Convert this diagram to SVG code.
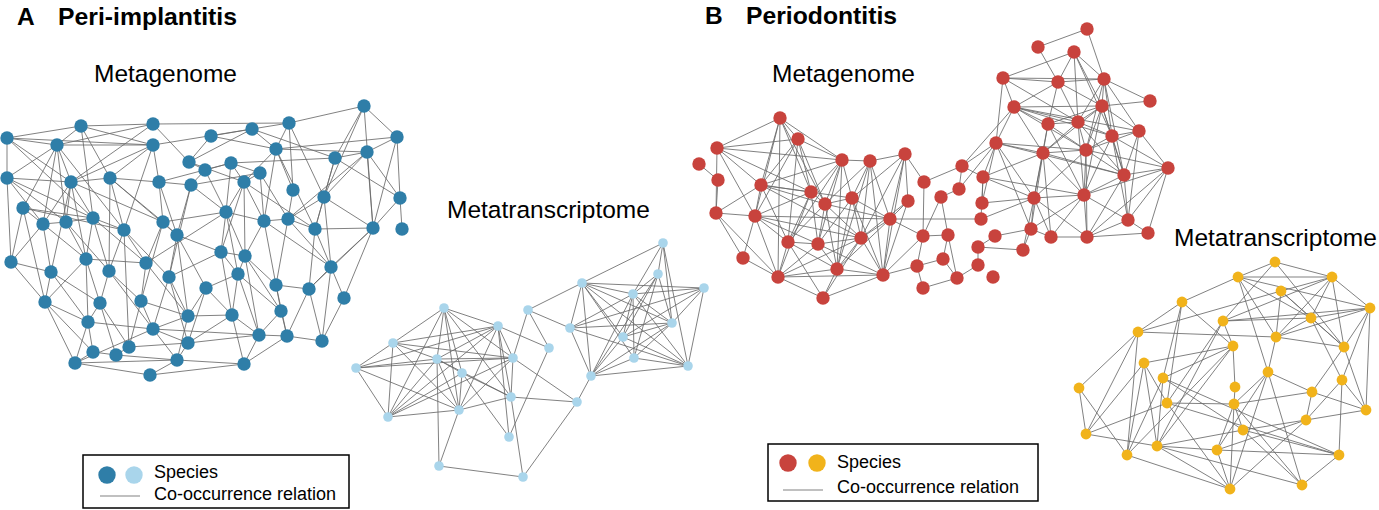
<svg xmlns="http://www.w3.org/2000/svg" width="1379" height="510" viewBox="0 0 1379 510">
<style>
.e{stroke:#6a6a6a;stroke-width:0.85;fill:none}
.db{fill:#2f7ea8}.lb{fill:#a9d5eb}.rd{fill:#c8433d}.yw{fill:#f1b31b}
.t{font-family:"Liberation Sans",Arial,sans-serif;fill:#000}
.h{font-size:24.5px;font-weight:bold}
.s{font-size:24.5px}
.lg{font-size:18px}
.box{fill:#fff;stroke:#000;stroke-width:1.5}
</style>
<rect width="1379" height="510" fill="#fff"/>
<g id="titles">
<text class="t h" x="17" y="25">A</text>
<text class="t h" x="58" y="25" textLength="179" lengthAdjust="spacingAndGlyphs">Peri-implantitis</text>
<text class="t s" x="94" y="82" textLength="143" lengthAdjust="spacingAndGlyphs">Metagenome</text>
<text class="t s" x="447" y="218">Metatranscriptome</text>
<text class="t h" x="705" y="24">B</text>
<text class="t h" x="746" y="24" textLength="151" lengthAdjust="spacingAndGlyphs">Periodontitis</text>
<text class="t s" x="772" y="82" textLength="143" lengthAdjust="spacingAndGlyphs">Metagenome</text>
<text class="t s" x="1174" y="246">Metatranscriptome</text>
</g>
<g id="connectors">
<path class="e" d="M7 138L81 126M7 138L57 145M7 138L7 178M7 138L71 182M7 138L93 218M7 138L153 145M81 126L153 124M81 126L57 145M81 126L153 145M81 126L110 178M81 126L93 218M153 124L289 123M153 124L57 145M153 124L189 162M153 124L71 182M57 145L153 145M57 145L7 178M57 145L71 182M57 145L23 208M57 145L43 224M57 145L66 222M57 145L124 230M153 145L71 182M153 145L110 178M153 145L124 230M153 145L159 182M189 162L211 136M189 162L205 170M189 162L252 129M189 162L244 182M211 136L252 129M211 136L276 149M205 170L191 185M205 170L231 163M205 170L226 212M7 178L71 182M7 178L11 262M7 178L43 224M7 178L93 218M7 178L66 222M71 182L110 178M71 182L43 224M71 182L66 222M71 182L93 218M71 182L51 272M71 182L86 259M71 182L163 222M110 178L159 182M110 178L124 230M110 178L109 271M110 178L163 222M110 178L177 235M159 182L163 222M159 182L177 235M159 182L191 185M159 182L231 163M191 185L177 235M191 185L169 277M191 185L260 173M191 185L226 212M23 208L43 224M23 208L93 218M23 208L124 230M23 208L45 302M23 208L11 262M43 224L11 262M43 224L51 272M43 224L66 222M43 224L86 259M66 222L93 218M66 222L86 259M66 222L109 271M93 218L124 230M93 218L109 271M93 218L146 263M93 218L86 259M124 230L146 263M124 230L169 277M124 230L129 347M124 230L109 271M163 222L177 235M163 222L146 263M163 222L141 301M163 222L226 212M177 235L169 277M177 235L206 288M177 235L188 316M177 235L221 252M11 262L51 272M11 262L45 302M51 272L45 302M51 272L88 322M51 272L100 303M86 259L100 303M86 259L88 322M86 259L146 263M86 259L45 302M109 271L141 301M109 271L100 303M109 271L153 329M146 263L141 301M146 263L188 316M146 263L226 212M169 277L188 316M169 277L153 329M169 277L188 343M169 277L221 252M206 288L188 316M206 288L188 343M206 288L238 274M206 288L232 315M45 302L88 322M45 302L93 352M45 302L75 363M100 303L116 355M100 303L129 347M100 303L88 322M141 301L153 329M141 301L129 347M141 301L188 316M188 316L177 360M188 316L232 315M188 316L153 329M88 322L93 352M88 322L75 363M88 322L153 329M153 329L188 343M153 329L75 363M153 329L177 360M153 329L259 335M93 352L116 355M93 352L75 363M116 355L129 347M116 355L177 360M129 347L188 343M188 343L177 360M188 343L232 315M188 343L259 335M75 363L150 375M75 363L177 360M177 360L150 375M177 360L244 364M150 375L244 364M252 129L289 123M252 129L276 149M252 129L335 158M252 129L153 145M289 123L364 106M289 123L293 190M289 123L324 197M289 123L276 149M364 106L397 137M364 106L335 158M364 106L324 197M364 106L373 228M397 137L367 152M397 137L400 198M397 137L373 228M397 137L276 149M231 163L260 173M231 163L244 182M231 163L226 212M231 163L335 158M276 149L367 152M276 149L244 182M276 149L264 221M276 149L315 229M276 149L293 190M335 158L367 152M335 158L324 197M335 158L400 198M335 158L315 229M367 152L324 197M367 152L400 198M367 152L373 228M367 152L288 219M260 173L244 182M260 173L264 221M260 173L288 219M244 182L226 212M244 182L264 221M244 182L221 252M244 182L245 256M244 182L315 229M293 190L288 219M324 197L315 229M324 197L373 228M324 197L331 267M324 197L288 219M400 198L373 228M400 198L402 229M226 212L221 252M226 212L245 256M226 212L238 274M226 212L264 221M264 221L288 219M264 221L245 256M264 221L331 267M264 221L276 285M288 219L315 229M288 219L331 267M288 219L276 285M315 229L331 267M315 229L309 289M315 229L373 228M373 228L331 267M373 228L344 298M373 228L309 289M221 252L245 256M221 252L238 274M221 252L232 315M245 256L238 274M245 256L276 285M245 256L281 311M245 256L259 335M331 267L309 289M331 267L322 341M331 267L344 298M238 274L232 315M238 274L281 311M238 274L259 335M276 285L281 311M276 285L287 336M276 285L309 289M309 289L287 336M309 289L322 341M344 298L322 341M232 315L259 335M232 315L244 364M281 311L259 335M281 311L287 336M259 335L287 336M259 335L244 364M287 336L322 341M287 336L244 364"/>
<path class="e" d="M444 308L393 343M444 308L498 326M444 308L437 359M444 308L462 373M444 308L513 358M444 308L388 417M444 308L459 410M444 308L511 397M498 326L393 343M498 326L356 368M498 326L388 417M498 326L437 359M498 326L459 410M498 326L513 358M498 326L511 397M498 326L549 348M498 326L509 437M393 343L356 368M393 343L388 417M393 343L437 359M393 343L513 358M393 343L459 410M356 368L388 417M356 368L437 359M356 368L513 358M356 368L459 410M388 417L437 359M388 417L462 373M388 417L513 358M388 417L459 410M437 359L513 358M437 359L459 410M437 359L439 466M437 359L462 373M437 359L511 397M462 373L511 397M462 373L459 410M462 373L509 437M459 410L513 358M459 410L439 466M459 410L511 397M513 358L511 397M513 358L577 402M513 358L528 310M511 397L577 402M511 397L523 477M509 437L549 348M439 466L523 477M523 477L577 402M528 310L582 283M528 310L570 328M528 310L549 348M577 402L591 376M582 283L663 243M582 283L704 288M582 283L672 323M582 283L688 366M582 283L623 337M582 283L634 358M582 283L633 294M582 283L570 328M582 283L591 376M663 243L633 294M663 243L672 323M663 243L688 366M663 243L658 274M658 274L633 294M658 274L623 337M658 274L634 358M658 274L591 376M658 274L672 323M633 294L704 288M633 294L672 323M633 294L623 337M633 294L634 358M633 294L688 366M633 294L591 376M633 294L570 328M704 288L570 328M704 288L688 366M704 288L623 337M704 288L672 323M570 328L672 323M570 328L688 366M570 328L591 376M672 323L623 337M672 323L634 358M672 323L591 376M623 337L688 366M623 337L591 376M634 358L688 366M634 358L591 376M688 366L591 376"/>
<path class="e" d="M780 118L717 148M780 118L798 139M780 118L842 160M780 118L761 185M780 118L755 216M780 118L778 277M780 118L825 204M780 118L811 192M798 139L717 148M798 139L842 160M798 139L761 185M798 139L811 192M798 139L755 216M798 139L788 242M798 139L825 204M717 148L842 160M717 148L761 185M717 148L811 192M717 148L716 213M717 148L755 216M699 164L718 180M718 180L716 213M842 160L870 161M842 160L761 185M842 160L811 192M842 160L825 204M842 160L852 198M842 160L788 242M842 160L818 244M842 160L837 269M870 161L905 154M870 161L852 198M870 161L825 204M870 161L861 238M870 161L883 275M870 161L837 269M870 161L890 219M905 154L890 219M905 154L924 182M905 154L861 238M905 154L883 275M905 154L852 198M905 154L908 201M761 185L811 192M761 185L825 204M761 185L716 213M761 185L755 216M761 185L788 242M761 185L852 198M761 185L861 238M811 192L825 204M811 192L755 216M811 192L788 242M811 192L818 244M811 192L778 277M825 204L852 198M825 204L818 244M825 204L788 242M825 204L861 238M825 204L837 269M825 204L890 219M852 198L890 219M852 198L861 238M852 198L818 244M852 198L883 275M852 198L837 269M908 201L890 219M908 201L861 238M908 201L883 275M924 182L962 166M924 182L923 236M962 166L959 189M962 166L983 177M962 166L996 143M941 197L923 236M941 197L948 235M959 189L941 197M983 177L982 203M983 177L981 219M716 213L755 216M716 213L743 258M716 213L778 277M755 216L788 242M755 216L818 244M755 216L778 277M755 216L861 238M755 216L890 219M755 216L743 258M890 219L861 238M890 219L883 275M890 219L923 236M890 219L981 219M890 219L837 269M788 242L818 244M788 242L778 277M788 242L823 298M788 242L837 269M818 244L861 238M818 244L837 269M818 244L778 277M818 244L883 275M861 238L883 275M861 238L837 269M861 238L778 277M861 238L823 298M923 236L948 235M923 236L917 266M923 236L883 275M948 235L943 259M948 235L957 278M978 247L978 265M978 247L995 236M743 258L778 277M778 277L837 269M778 277L823 298M778 277L883 275M837 269L823 298M837 269L883 275M883 275L823 298M883 275L917 266M917 266L943 259M917 266L923 288M943 259L957 278M978 265L957 278M923 288L957 278M1087 29L1038 47M1087 29L1104 79M1038 47L1058 82M1074 52L1003 78M1074 52L1104 79M1074 52L1102 106M1074 52L1078 122M1074 52L1112 136M1074 52L1058 82M1003 78L1058 82M1003 78L1104 79M1003 78L1014 107M1003 78L996 143M1003 78L1078 122M1058 82L1104 79M1058 82L1014 107M1058 82L1102 106M1058 82L1048 124M1058 82L1078 122M1104 79L1102 106M1104 79L1112 136M1104 79L1139 131M1104 79L1124 175M1104 79L1086 150M1104 79L1078 122M1104 79L1150 101M1150 101L1102 106M1014 107L1102 106M1014 107L1048 124M1014 107L1078 122M1014 107L996 143M1014 107L1043 153M1014 107L1112 136M1014 107L1139 131M1014 107L1086 150M1102 106L1048 124M1102 106L1078 122M1102 106L1112 136M1102 106L1139 131M1102 106L1043 153M1102 106L1086 150M1102 106L1124 175M1102 106L1084 195M1048 124L1078 122M1048 124L1043 153M1048 124L1086 150M1048 124L1034 198M1048 124L1084 195M1078 122L1112 136M1078 122L1043 153M1078 122L1086 150M1078 122L1124 175M1078 122L1084 195M1112 136L1139 131M1112 136L1086 150M1112 136L1124 175M1112 136L1168 168M1112 136L1084 195M1112 136L1128 220M1139 131L1168 168M1139 131L1124 175M1139 131L1086 150M1139 131L1128 220M996 143L1043 153M996 143L1086 150M996 143L1124 175M996 143L1034 198M996 143L1031 229M996 143L983 177M1043 153L1086 150M1043 153L1034 198M1043 153L1084 195M1043 153L1124 175M1043 153L1051 237M1043 153L1031 229M1086 150L1124 175M1086 150L1084 195M1086 150L1168 168M1086 150L1034 198M1086 150L1087 237M1168 168L1124 175M1168 168L1128 220M1168 168L1087 237M1168 168L1148 233M1168 168L1084 195M1124 175L1084 195M1124 175L1128 220M1124 175L1087 237M983 177L1034 198M983 177L1084 195M983 177L1043 153M1034 198L1084 195M1034 198L1031 229M1034 198L1051 237M1034 198L1087 237M1034 198L1023 250M1084 195L1128 220M1084 195L1087 237M1084 195L1051 237M1084 195L1031 229M1128 220L1087 237M1128 220L1148 233M1031 229L1051 237M1051 237L1087 237M1087 237L1148 233M995 236L1031 229M1023 250L1031 229M978 247L1023 250M982 203L1034 198M981 219L1034 198M982 203L996 143M959 189L996 143M962 166L1014 107"/>
<path class="e" d="M1275 262L1238 277M1275 262L1332 277M1275 262L1344 347M1275 262L1223 321M1238 277L1182 302M1238 277L1332 277M1238 277L1311 318M1238 277L1276 337M1238 277L1268 372M1238 277L1370 308M1332 277L1281 291M1332 277L1311 318M1332 277L1370 308M1332 277L1276 337M1332 277L1344 347M1332 277L1223 321M1281 291L1311 318M1281 291L1344 347M1281 291L1276 337M1281 291L1138 332M1370 308L1223 321M1370 308L1311 318M1370 308L1276 337M1370 308L1344 347M1370 308L1366 410M1370 308L1342 380M1182 302L1138 332M1182 302L1163 378M1182 302L1167 403M1182 302L1233 346M1138 332L1276 337M1138 332L1079 388M1138 332L1086 434M1138 332L1127 455M1223 321L1311 318M1223 321L1233 346M1223 321L1157 446M1223 321L1167 403M1311 318L1276 337M1311 318L1344 347M1311 318L1342 380M1276 337L1344 347M1276 337L1268 372M1233 346L1144 363M1233 346L1235 387M1233 346L1163 378M1233 346L1127 455M1233 346L1157 446M1344 347L1312 392M1344 347L1366 410M1144 363L1086 434M1144 363L1127 455M1144 363L1157 446M1144 363L1167 403M1163 378L1127 455M1163 378L1157 446M1163 378L1339 455M1163 378L1243 430M1268 372L1234 404M1268 372L1312 392M1268 372L1230 489M1268 372L1302 485M1268 372L1217 450M1342 380L1366 410M1342 380L1339 455M1342 380L1306 420M1079 388L1086 434M1079 388L1127 455M1235 387L1234 404M1312 392L1306 420M1312 392L1366 410M1312 392L1234 404M1167 403L1234 404M1167 403L1086 434M1167 403L1339 455M1167 403L1230 489M1234 404L1217 450M1234 404L1243 430M1234 404L1230 489M1234 404L1302 485M1366 410L1306 420M1306 420L1217 450M1306 420L1230 489M1306 420L1243 430M1243 430L1339 455M1243 430L1157 446M1243 430L1302 485M1086 434L1157 446M1157 446L1217 450M1157 446L1302 485M1157 446L1230 489M1127 455L1230 489M1217 450L1339 455M1217 450L1230 489M1339 455L1302 485"/>
</g>
<g id="peri-metagenome-nodes" class="db">
<g id="pm1"><circle cx="7" cy="138" r="6.7"/></g>
<g id="pm2"><circle cx="81" cy="126" r="6.7"/></g>
<g id="pm3"><circle cx="153" cy="124" r="6.7"/></g>
<g id="pm4"><circle cx="57" cy="145" r="6.7"/></g>
<g id="pm5"><circle cx="153" cy="145" r="6.7"/></g>
<g id="pm6"><circle cx="189" cy="162" r="6.7"/></g>
<g id="pm7"><circle cx="211" cy="136" r="6.7"/></g>
<g id="pm8"><circle cx="205" cy="170" r="6.7"/></g>
<g id="pm9"><circle cx="7" cy="178" r="6.7"/></g>
<g id="pm10"><circle cx="71" cy="182" r="6.7"/></g>
<g id="pm11"><circle cx="110" cy="178" r="6.7"/></g>
<g id="pm12"><circle cx="159" cy="182" r="6.7"/></g>
<g id="pm13"><circle cx="191" cy="185" r="6.7"/></g>
<g id="pm14"><circle cx="23" cy="208" r="6.7"/></g>
<g id="pm15"><circle cx="43" cy="224" r="6.7"/></g>
<g id="pm16"><circle cx="66" cy="222" r="6.7"/></g>
<g id="pm17"><circle cx="93" cy="218" r="6.7"/></g>
<g id="pm18"><circle cx="124" cy="230" r="6.7"/></g>
<g id="pm19"><circle cx="163" cy="222" r="6.7"/></g>
<g id="pm20"><circle cx="177" cy="235" r="6.7"/></g>
<g id="pm21"><circle cx="11" cy="262" r="6.7"/></g>
<g id="pm22"><circle cx="51" cy="272" r="6.7"/></g>
<g id="pm23"><circle cx="86" cy="259" r="6.7"/></g>
<g id="pm24"><circle cx="109" cy="271" r="6.7"/></g>
<g id="pm25"><circle cx="146" cy="263" r="6.7"/></g>
<g id="pm26"><circle cx="169" cy="277" r="6.7"/></g>
<g id="pm27"><circle cx="206" cy="288" r="6.7"/></g>
<g id="pm28"><circle cx="45" cy="302" r="6.7"/></g>
<g id="pm29"><circle cx="100" cy="303" r="6.7"/></g>
<g id="pm30"><circle cx="141" cy="301" r="6.7"/></g>
<g id="pm31"><circle cx="188" cy="316" r="6.7"/></g>
<g id="pm32"><circle cx="88" cy="322" r="6.7"/></g>
<g id="pm33"><circle cx="153" cy="329" r="6.7"/></g>
<g id="pm34"><circle cx="93" cy="352" r="6.7"/></g>
<g id="pm35"><circle cx="116" cy="355" r="6.7"/></g>
<g id="pm36"><circle cx="129" cy="347" r="6.7"/></g>
<g id="pm37"><circle cx="188" cy="343" r="6.7"/></g>
<g id="pm38"><circle cx="75" cy="363" r="6.7"/></g>
<g id="pm39"><circle cx="177" cy="360" r="6.7"/></g>
<g id="pm40"><circle cx="150" cy="375" r="6.7"/></g>
<g id="pm41"><circle cx="252" cy="129" r="6.7"/></g>
<g id="pm42"><circle cx="289" cy="123" r="6.7"/></g>
<g id="pm43"><circle cx="364" cy="106" r="6.7"/></g>
<g id="pm44"><circle cx="397" cy="137" r="6.7"/></g>
<g id="pm45"><circle cx="231" cy="163" r="6.7"/></g>
<g id="pm46"><circle cx="276" cy="149" r="6.7"/></g>
<g id="pm47"><circle cx="335" cy="158" r="6.7"/></g>
<g id="pm48"><circle cx="367" cy="152" r="6.7"/></g>
<g id="pm49"><circle cx="260" cy="173" r="6.7"/></g>
<g id="pm50"><circle cx="244" cy="182" r="6.7"/></g>
<g id="pm51"><circle cx="293" cy="190" r="6.7"/></g>
<g id="pm52"><circle cx="324" cy="197" r="6.7"/></g>
<g id="pm53"><circle cx="400" cy="198" r="6.7"/></g>
<g id="pm54"><circle cx="226" cy="212" r="6.7"/></g>
<g id="pm55"><circle cx="264" cy="221" r="6.7"/></g>
<g id="pm56"><circle cx="288" cy="219" r="6.7"/></g>
<g id="pm57"><circle cx="315" cy="229" r="6.7"/></g>
<g id="pm58"><circle cx="373" cy="228" r="6.7"/></g>
<g id="pm59"><circle cx="402" cy="229" r="6.7"/></g>
<g id="pm60"><circle cx="221" cy="252" r="6.7"/></g>
<g id="pm61"><circle cx="245" cy="256" r="6.7"/></g>
<g id="pm62"><circle cx="331" cy="267" r="6.7"/></g>
<g id="pm63"><circle cx="238" cy="274" r="6.7"/></g>
<g id="pm64"><circle cx="276" cy="285" r="6.7"/></g>
<g id="pm65"><circle cx="309" cy="289" r="6.7"/></g>
<g id="pm66"><circle cx="344" cy="298" r="6.7"/></g>
<g id="pm67"><circle cx="232" cy="315" r="6.7"/></g>
<g id="pm68"><circle cx="281" cy="311" r="6.7"/></g>
<g id="pm69"><circle cx="259" cy="335" r="6.7"/></g>
<g id="pm70"><circle cx="287" cy="336" r="6.7"/></g>
<g id="pm71"><circle cx="322" cy="341" r="6.7"/></g>
<g id="pm72"><circle cx="244" cy="364" r="6.7"/></g>
</g>
<g id="peri-metatranscriptome-nodes" class="lb">
<g id="pt1"><circle cx="444" cy="308" r="4.8"/></g>
<g id="pt2"><circle cx="498" cy="326" r="4.8"/></g>
<g id="pt3"><circle cx="393" cy="343" r="4.8"/></g>
<g id="pt4"><circle cx="437" cy="359" r="4.8"/></g>
<g id="pt5"><circle cx="462" cy="373" r="4.8"/></g>
<g id="pt6"><circle cx="513" cy="358" r="4.8"/></g>
<g id="pt7"><circle cx="356" cy="368" r="4.8"/></g>
<g id="pt8"><circle cx="388" cy="417" r="4.8"/></g>
<g id="pt9"><circle cx="459" cy="410" r="4.8"/></g>
<g id="pt10"><circle cx="511" cy="397" r="4.8"/></g>
<g id="pt11"><circle cx="509" cy="437" r="4.8"/></g>
<g id="pt12"><circle cx="439" cy="466" r="4.8"/></g>
<g id="pt13"><circle cx="523" cy="477" r="4.8"/></g>
<g id="pt14"><circle cx="528" cy="310" r="4.8"/></g>
<g id="pt15"><circle cx="549" cy="348" r="4.8"/></g>
<g id="pt16"><circle cx="577" cy="402" r="4.8"/></g>
<g id="pt17"><circle cx="582" cy="283" r="4.8"/></g>
<g id="pt18"><circle cx="663" cy="243" r="4.8"/></g>
<g id="pt19"><circle cx="658" cy="274" r="4.8"/></g>
<g id="pt20"><circle cx="633" cy="294" r="4.8"/></g>
<g id="pt21"><circle cx="704" cy="288" r="4.8"/></g>
<g id="pt22"><circle cx="570" cy="328" r="4.8"/></g>
<g id="pt23"><circle cx="672" cy="323" r="4.8"/></g>
<g id="pt24"><circle cx="623" cy="337" r="4.8"/></g>
<g id="pt25"><circle cx="634" cy="358" r="4.8"/></g>
<g id="pt26"><circle cx="688" cy="366" r="4.8"/></g>
<g id="pt27"><circle cx="591" cy="376" r="4.8"/></g>
</g>
<g id="perio-metagenome-nodes" class="rd">
<g id="dm1"><circle cx="780" cy="118" r="6.7"/></g>
<g id="dm2"><circle cx="798" cy="139" r="6.7"/></g>
<g id="dm3"><circle cx="717" cy="148" r="6.7"/></g>
<g id="dm4"><circle cx="699" cy="164" r="6.7"/></g>
<g id="dm5"><circle cx="718" cy="180" r="6.7"/></g>
<g id="dm6"><circle cx="842" cy="160" r="6.7"/></g>
<g id="dm7"><circle cx="870" cy="161" r="6.7"/></g>
<g id="dm8"><circle cx="905" cy="154" r="6.7"/></g>
<g id="dm9"><circle cx="761" cy="185" r="6.7"/></g>
<g id="dm10"><circle cx="811" cy="192" r="6.7"/></g>
<g id="dm11"><circle cx="825" cy="204" r="6.7"/></g>
<g id="dm12"><circle cx="852" cy="198" r="6.7"/></g>
<g id="dm13"><circle cx="908" cy="201" r="6.7"/></g>
<g id="dm14"><circle cx="924" cy="182" r="6.7"/></g>
<g id="dm15"><circle cx="962" cy="166" r="6.7"/></g>
<g id="dm16"><circle cx="959" cy="189" r="6.7"/></g>
<g id="dm17"><circle cx="941" cy="197" r="6.7"/></g>
<g id="dm18"><circle cx="983" cy="177" r="6.7"/></g>
<g id="dm19"><circle cx="996" cy="143" r="6.7"/></g>
<g id="dm20"><circle cx="982" cy="203" r="6.7"/></g>
<g id="dm21"><circle cx="981" cy="219" r="6.7"/></g>
<g id="dm22"><circle cx="995" cy="236" r="6.7"/></g>
<g id="dm23"><circle cx="716" cy="213" r="6.7"/></g>
<g id="dm24"><circle cx="755" cy="216" r="6.7"/></g>
<g id="dm25"><circle cx="890" cy="219" r="6.7"/></g>
<g id="dm26"><circle cx="788" cy="242" r="6.7"/></g>
<g id="dm27"><circle cx="818" cy="244" r="6.7"/></g>
<g id="dm28"><circle cx="861" cy="238" r="6.7"/></g>
<g id="dm29"><circle cx="923" cy="236" r="6.7"/></g>
<g id="dm30"><circle cx="948" cy="235" r="6.7"/></g>
<g id="dm31"><circle cx="978" cy="247" r="6.7"/></g>
<g id="dm32"><circle cx="743" cy="258" r="6.7"/></g>
<g id="dm33"><circle cx="778" cy="277" r="6.7"/></g>
<g id="dm34"><circle cx="837" cy="269" r="6.7"/></g>
<g id="dm35"><circle cx="883" cy="275" r="6.7"/></g>
<g id="dm36"><circle cx="917" cy="266" r="6.7"/></g>
<g id="dm37"><circle cx="943" cy="259" r="6.7"/></g>
<g id="dm38"><circle cx="978" cy="265" r="6.7"/></g>
<g id="dm39"><circle cx="993" cy="277" r="6.7"/></g>
<g id="dm40"><circle cx="957" cy="278" r="6.7"/></g>
<g id="dm41"><circle cx="823" cy="298" r="6.7"/></g>
<g id="dm42"><circle cx="923" cy="288" r="6.7"/></g>
<g id="dm43"><circle cx="1087" cy="29" r="6.7"/></g>
<g id="dm44"><circle cx="1038" cy="47" r="6.7"/></g>
<g id="dm45"><circle cx="1074" cy="52" r="6.7"/></g>
<g id="dm46"><circle cx="1003" cy="78" r="6.7"/></g>
<g id="dm47"><circle cx="1058" cy="82" r="6.7"/></g>
<g id="dm48"><circle cx="1104" cy="79" r="6.7"/></g>
<g id="dm49"><circle cx="1150" cy="101" r="6.7"/></g>
<g id="dm50"><circle cx="1014" cy="107" r="6.7"/></g>
<g id="dm51"><circle cx="1102" cy="106" r="6.7"/></g>
<g id="dm52"><circle cx="1048" cy="124" r="6.7"/></g>
<g id="dm53"><circle cx="1078" cy="122" r="6.7"/></g>
<g id="dm54"><circle cx="1112" cy="136" r="6.7"/></g>
<g id="dm55"><circle cx="1139" cy="131" r="6.7"/></g>
<g id="dm57"><circle cx="1043" cy="153" r="6.7"/></g>
<g id="dm58"><circle cx="1086" cy="150" r="6.7"/></g>
<g id="dm59"><circle cx="1168" cy="168" r="6.7"/></g>
<g id="dm60"><circle cx="1124" cy="175" r="6.7"/></g>
<g id="dm61"><circle cx="1034" cy="198" r="6.7"/></g>
<g id="dm62"><circle cx="1084" cy="195" r="6.7"/></g>
<g id="dm63"><circle cx="1128" cy="220" r="6.7"/></g>
<g id="dm64"><circle cx="1031" cy="229" r="6.7"/></g>
<g id="dm65"><circle cx="1051" cy="237" r="6.7"/></g>
<g id="dm66"><circle cx="1087" cy="237" r="6.7"/></g>
<g id="dm67"><circle cx="1148" cy="233" r="6.7"/></g>
<g id="dm68"><circle cx="1023" cy="250" r="6.7"/></g>
</g>
<g id="perio-metatranscriptome-nodes" class="yw">
<g id="dt1"><circle cx="1275" cy="262" r="5.4"/></g>
<g id="dt2"><circle cx="1238" cy="277" r="5.4"/></g>
<g id="dt3"><circle cx="1332" cy="277" r="5.4"/></g>
<g id="dt4"><circle cx="1281" cy="291" r="5.4"/></g>
<g id="dt5"><circle cx="1182" cy="302" r="5.4"/></g>
<g id="dt6"><circle cx="1370" cy="308" r="5.4"/></g>
<g id="dt7"><circle cx="1223" cy="321" r="5.4"/></g>
<g id="dt8"><circle cx="1311" cy="318" r="5.4"/></g>
<g id="dt9"><circle cx="1138" cy="332" r="5.4"/></g>
<g id="dt10"><circle cx="1276" cy="337" r="5.4"/></g>
<g id="dt11"><circle cx="1233" cy="346" r="5.4"/></g>
<g id="dt12"><circle cx="1344" cy="347" r="5.4"/></g>
<g id="dt13"><circle cx="1144" cy="363" r="5.4"/></g>
<g id="dt14"><circle cx="1163" cy="378" r="5.4"/></g>
<g id="dt15"><circle cx="1268" cy="372" r="5.4"/></g>
<g id="dt16"><circle cx="1342" cy="380" r="5.4"/></g>
<g id="dt17"><circle cx="1079" cy="388" r="5.4"/></g>
<g id="dt18"><circle cx="1235" cy="387" r="5.4"/></g>
<g id="dt19"><circle cx="1312" cy="392" r="5.4"/></g>
<g id="dt20"><circle cx="1167" cy="403" r="5.4"/></g>
<g id="dt21"><circle cx="1234" cy="404" r="5.4"/></g>
<g id="dt22"><circle cx="1366" cy="410" r="5.4"/></g>
<g id="dt23"><circle cx="1306" cy="420" r="5.4"/></g>
<g id="dt24"><circle cx="1243" cy="430" r="5.4"/></g>
<g id="dt25"><circle cx="1086" cy="434" r="5.4"/></g>
<g id="dt26"><circle cx="1157" cy="446" r="5.4"/></g>
<g id="dt27"><circle cx="1127" cy="455" r="5.4"/></g>
<g id="dt28"><circle cx="1217" cy="450" r="5.4"/></g>
<g id="dt29"><circle cx="1339" cy="455" r="5.4"/></g>
<g id="dt30"><circle cx="1230" cy="489" r="5.4"/></g>
<g id="dt31"><circle cx="1302" cy="485" r="5.4"/></g>
</g>
<g id="legend-a">
<rect class="box" x="83" y="455" width="266" height="53"/>
<circle class="db" cx="107" cy="475" r="8.7"/>
<circle class="lb" cx="134" cy="475" r="8.7"/>
<line class="e" x1="100" y1="496" x2="140" y2="496" stroke-width="1.2"/>
<text class="t lg" x="154" y="478">Species</text>
<text class="t lg" x="154" y="500">Co-occurrence relation</text>
</g>
<g id="legend-b">
<rect class="box" x="768" y="444" width="270" height="57"/>
<circle class="rd" cx="788" cy="463" r="8.7"/>
<circle class="yw" cx="817" cy="463" r="8.7"/>
<line class="e" x1="783" y1="490" x2="823" y2="490" stroke-width="1.2"/>
<text class="t lg" x="837" y="468">Species</text>
<text class="t lg" x="837" y="493">Co-occurrence relation</text>
</g>
</svg>
